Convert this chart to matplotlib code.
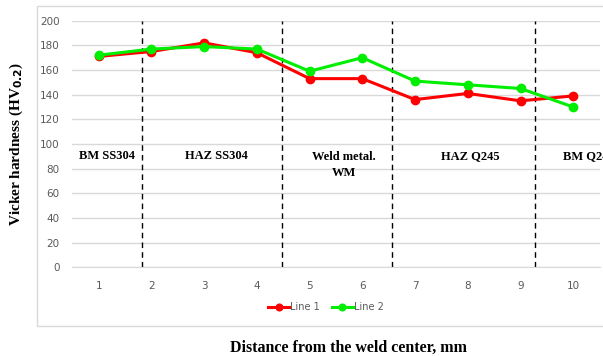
import numpy as np
import matplotlib
matplotlib.use("Agg")
import matplotlib.pyplot as plt
from matplotlib.patches import Rectangle

# ── Data ───────────────────────────────────────────────────────────────
positions = [1, 2, 3, 4, 5, 6, 7, 8, 9, 10]
line1 = [171, 175, 182, 174, 153, 153, 136, 141, 135, 139]
line2 = [172, 177, 179, 177, 159, 170, 151, 148, 145, 130]
boundaries = [1.83, 4.47, 6.56, 9.28]
zone_names = ['BM SS304', 'HAZ SS304', 'Weld metal.\nWM', 'HAZ Q245', 'BM Q245']
zone_x = [1.16, 3.24, 5.65, 8.05, 10.3]
yticks = [0, 20, 40, 60, 80, 100, 120, 140, 160, 180, 200]

serif = ['Liberation Serif', 'DejaVu Serif']
tick_grey = '#595959'

fig = plt.figure(figsize=(6.03, 3.56), dpi=100)
fig.patch.set_facecolor('white')

# chart area border (runs off the right edge, as in the source)
fig.patches.append(Rectangle((37 / 603, 1 - 326 / 356), 600 / 603, 320 / 356,
                             transform=fig.transFigure, fill=False,
                             edgecolor='#d9d9d9', lw=1.0))

ax = fig.add_axes([0.1199, 0.2492, 0.8745, 0.6927])
ax.set_xlim(0.5, 10.5)
ax.set_ylim(0, 200)
ax.set_yticks(yticks)
ax.set_xticks(positions)
ax.grid(axis='y', color='#d9d9d9', lw=1.0)
ax.set_axisbelow(True)
for s in ['top', 'right', 'left']:
    ax.spines[s].set_visible(False)
ax.spines['bottom'].set_color('#d9d9d9')
ax.tick_params(length=0, labelsize=7.5, labelcolor=tick_grey)
ax.tick_params(axis='y', pad=9)
ax.tick_params(axis='x', pad=10)

for b in boundaries:
    ax.axvline(b, color='black', ls=(0, (4, 3)), lw=1.0, zorder=1)

ax.plot(positions, line1, color='#ff0000', lw=2.2, marker='o', ms=6,
        label='Line 1', zorder=3)
ax.plot(positions, line2, color='#00ee00', lw=2.2, marker='o', ms=6,
        label='Line 2', zorder=4)

for name, x in zip(zone_names, zone_x):
    va_y = 90 if '\n' not in name else 83
    ax.text(x, va_y, name, ha='center', va='center', fontsize=9,
            fontweight='bold', family=serif, clip_on=False, linespacing=1.35)

ax.set_ylabel('Vicker hardness (HV$_{\\mathbf{0.2}}$)', fontsize=11,
              fontweight='bold', family=serif, labelpad=11)
fig.text(349 / 603, 1 - 348 / 356, 'Distance from the weld center, mm',
         ha='center', va='center', fontsize=11.5, fontweight='bold', family=serif)

ax.legend(loc='center', bbox_to_anchor=(326 / 603, 1 - 307 / 356),
          bbox_transform=fig.transFigure, ncol=2, frameon=False,
          fontsize=7, labelcolor=tick_grey, handlelength=2.2,
          handletextpad=0.1, columnspacing=1.2, markerscale=0.8)

fig.savefig('out.png', dpi=100)
